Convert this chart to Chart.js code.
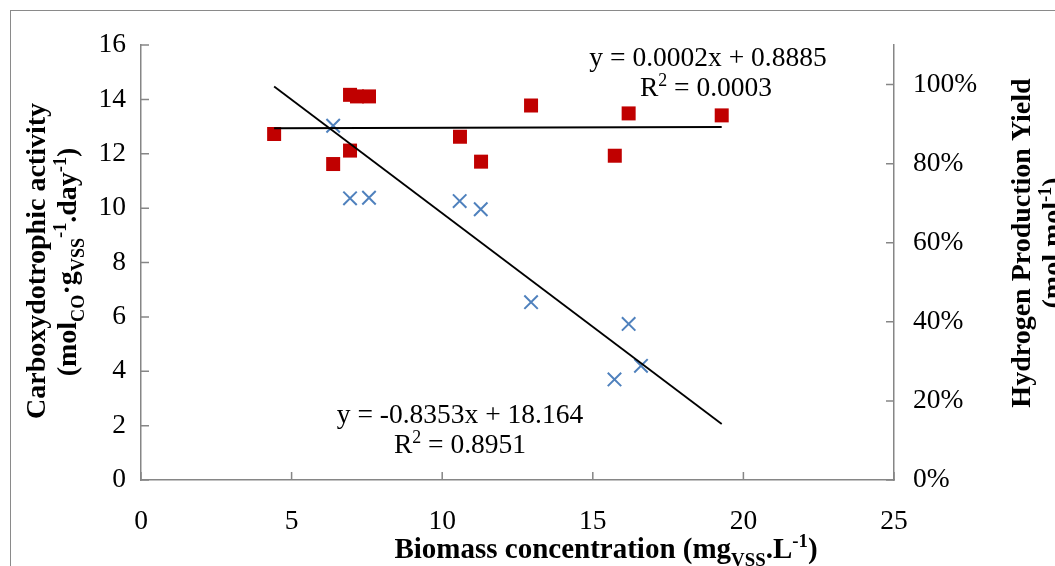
<!DOCTYPE html>
<html>
<head>
<meta charset="utf-8">
<script src="https://cdn.jsdelivr.net/npm/chart.js@4.4.1/dist/chart.umd.min.js"></script>
<style>
  html, body { margin: 0; padding: 0; background: #fff; width: 1055px; height: 566px; overflow: hidden; }
  #frame { position: absolute; left: 10px; top: 10px; width: 2000px; height: 2000px; border: 1.5px solid #8a8a8a; box-sizing: border-box; }
  #wrap { position: absolute; left: 0; top: 0; width: 1055px; height: 566px; }
</style>
</head>
<body>
<div id="frame"></div>
<div id="wrap"><canvas id="c" width="1055" height="566"></canvas></div>
<script>
// ---- Data ----
const biomassH2 = [4.42, 6.38, 6.94, 6.94, 7.17, 7.57, 10.59, 11.29, 12.95, 15.73, 16.19, 19.28];
const h2Yield   = [0.875, 0.799, 0.974, 0.833, 0.970, 0.970, 0.868, 0.805, 0.947, 0.820, 0.927, 0.922];
const biomassCO = [6.38, 6.94, 7.57, 10.58, 11.28, 12.95, 15.72, 16.19, 16.60];
const coActivity = [13.03, 10.36, 10.38, 10.26, 9.96, 6.54, 3.70, 5.74, 4.20];
// Trendlines (slope, intercept) as printed on the chart, and their x extent
const h2Trend = [0.0002, 0.8885];
const coTrend = [-0.8353, 18.164];
const trendRange = [4.42, 19.28];
// Axis ticks
const xTicks = [0, 5, 10, 15, 20, 25];
const yTicks = [0, 2, 4, 6, 8, 10, 12, 14, 16];
const y2Ticks = [0, 0.2, 0.4, 0.6, 0.8, 1.0];

const FONT = 'Liberation Serif';
const AXIS_COLOR = '#868686';

function pts(xs, ys) { return xs.map((x, i) => ({ x: x, y: ys[i] })); }
function trendPts(coef) { return trendRange.map(x => ({ x: x, y: coef[0] * x + coef[1] })); }

function drawRich(ctx, segs, cx, cy, size, bold, rot) {
  const f = (sz) => (bold ? 'bold ' : '') + sz + 'px "' + FONT + '"';
  const small = size * 0.65;
  let w = 0;
  const widths = segs.map(s => { ctx.font = f(s.s ? small : size); const m = ctx.measureText(s.t).width; w += m; return m; });
  ctx.save();
  ctx.translate(cx, cy);
  ctx.rotate(rot || 0);
  ctx.fillStyle = '#000';
  ctx.textAlign = 'left';
  ctx.textBaseline = 'alphabetic';
  let x = -w / 2;
  const base = size * 0.33;
  segs.forEach((s, i) => {
    ctx.font = f(s.s ? small : size);
    const dy = s.s === 'sub' ? size * 0.28 : (s.s === 'sup' ? -size * 0.38 : 0);
    ctx.fillText(s.t, x, base + dy);
    x += widths[i];
  });
  ctx.restore();
}

const decor = {
  id: 'decor',
  afterDraw(chart) {
    const ctx = chart.ctx;
    const xs = chart.scales.x, ys = chart.scales.y, y2 = chart.scales.y2;
    const ca = chart.chartArea;
    ctx.save();
    ctx.strokeStyle = AXIS_COLOR;
    ctx.lineWidth = 1.5;
    const TL = 8;
    ctx.beginPath();
    yTicks.forEach(v => { const p = ys.getPixelForValue(v); ctx.moveTo(ca.left, p); ctx.lineTo(ca.left + TL, p); });
    y2Ticks.forEach(v => { const p = y2.getPixelForValue(v); ctx.moveTo(ca.right, p); ctx.lineTo(ca.right - TL, p); });
    xTicks.forEach(v => { const p = xs.getPixelForValue(v); ctx.moveTo(p, ca.bottom); ctx.lineTo(p, ca.bottom - TL); });
    ctx.stroke();
    ctx.restore();

    // Axis titles
    drawRich(ctx, [{t: 'Biomass concentration (mg'}, {t: 'VSS', s: 'sub'}, {t: '.L'}, {t: '-1', s: 'sup'}, {t: ')'}],
      606, 548, 29, true, 0);
    drawRich(ctx, [{t: 'Carboxydotrophic activity'}], 36, 261, 28, true, -Math.PI / 2);
    drawRich(ctx, [{t: '(mol'}, {t: 'CO', s: 'sub'}, {t: '·g'}, {t: 'VSS', s: 'sub'}, {t: '-1', s: 'sup'}, {t: '.day'}, {t: '-1', s: 'sup'}, {t: ')'}],
      67, 262, 28, true, -Math.PI / 2);
    drawRich(ctx, [{t: 'Hydrogen Production Yield'}], 1021, 243, 28, true, -Math.PI / 2);
    drawRich(ctx, [{t: '(mol.mol'}, {t: '-1', s: 'sup'}, {t: ')'}], 1052, 243, 28, true, -Math.PI / 2);

    // Trendline equations
    drawRich(ctx, [{t: 'y = ' + h2Trend[0] + 'x + ' + h2Trend[1]}], 708, 57, 27.5, false, 0);
    drawRich(ctx, [{t: 'R'}, {t: '2', s: 'sup'}, {t: ' = 0.0003'}], 706, 87, 27.5, false, 0);
    drawRich(ctx, [{t: 'y = ' + coTrend[0] + 'x + ' + coTrend[1]}], 460, 414, 27.5, false, 0);
    drawRich(ctx, [{t: 'R'}, {t: '2', s: 'sup'}, {t: ' = 0.8951'}], 460, 444, 27.5, false, 0);
  }
};

Chart.defaults.font.family = FONT;
Chart.defaults.font.size = 27.5;
Chart.defaults.color = '#000';

new Chart(document.getElementById('c'), {
  type: 'scatter',
  data: {
    datasets: [
      { label: 'H2 trend', data: trendPts(h2Trend), yAxisID: 'y2', showLine: true, borderColor: '#000', borderWidth: 2, pointRadius: 0, order: 0 },
      { label: 'CO trend', data: trendPts(coTrend), yAxisID: 'y', showLine: true, borderColor: '#000', borderWidth: 1.8, pointRadius: 0, order: 0 },
      { label: 'Hydrogen Production Yield', data: pts(biomassH2, h2Yield), yAxisID: 'y2', pointStyle: 'rect', pointRadius: 9.9, backgroundColor: '#C00000', borderColor: '#C00000', borderWidth: 0, order: 1 },
      { label: 'Carboxydotrophic activity', data: pts(biomassCO, coActivity), yAxisID: 'y', pointStyle: 'crossRot', pointRadius: 9.5, borderColor: '#4F81BD', borderWidth: 2, order: 1 }
    ]
  },
  options: {
    responsive: false,
    animation: false,
    events: [],
    layout: { padding: { top: 45, left: 0, right: 0, bottom: 0 } },
    plugins: { legend: { display: false }, tooltip: { enabled: false } },
    scales: {
      x: {
        type: 'linear', position: 'bottom', min: 0, max: 25,
        afterFit(s) { s.height = 86; },
        ticks: { stepSize: 5, padding: 25, maxRotation: 0, autoSkip: false },
        grid: { drawOnChartArea: false, drawTicks: false },
        border: { display: true, color: AXIS_COLOR, width: 1.5 }
      },
      y: {
        type: 'linear', position: 'left', min: 0, max: 16,
        afterFit(s) { s.width = 141; },
        ticks: { stepSize: 2, padding: 15 },
        grid: { drawOnChartArea: false, drawTicks: false },
        border: { display: true, color: AXIS_COLOR, width: 1.5 }
      },
      y2: {
        type: 'linear', position: 'right', min: 0, max: 1.1,
        afterFit(s) { s.width = 161; },
        ticks: { stepSize: 0.2, padding: 19, includeBounds: false, callback: v => Math.round(v * 100) + '%' },
        grid: { drawOnChartArea: false, drawTicks: false },
        border: { display: true, color: AXIS_COLOR, width: 1.5 }
      }
    }
  },
  plugins: [decor]
});
</script>
</body>
</html>
